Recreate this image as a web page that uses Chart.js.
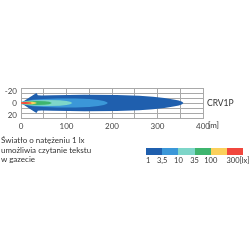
<!DOCTYPE html>
<html>
<head>
<meta charset="utf-8">
<script src="https://cdn.jsdelivr.net/npm/chart.js@4"></script>
<style>
  body { margin: 0; background: #fff; }
  #wrap { position: relative; width: 250px; height: 250px; font-family: Lato, sans-serif; color: #333; }
  #beam { position: absolute; left: 0; top: 0; }
  .txt { position: absolute; font-size: 8px; white-space: nowrap; }
  .lbl { font-size: 7.5px; top: 156px; }
  #desc { left: 1px; top: 136px; line-height: 9.5px; }
  #bar { position: absolute; left: 146px; top: 148px; height: 7px; display: flex; }
  #bar div { width: 16.2px; height: 7px; }
</style>
</head>
<body>
<div id="wrap">
  <canvas id="beam" width="250" height="250"></canvas>
  <div class="txt" style="left:207px; top:98px; font-size:8.5px;">CRV1P</div>
  <div class="txt" style="left:208px; top:120px;">[m]</div>
  <div class="txt" id="desc">Światło o natężeniu 1 lx<br>umożliwia czytanie tekstu<br>w gazecie</div>
  <div id="bar"></div>
  <div id="barLabels"></div>
  <div class="txt lbl" style="left:239.5px;">[lx]</div>
</div>
<script>
// lux levels, outermost first
const levelLabels = ["1", "3,5", "10", "35", "100", "300"];
const levelColors = ["#1f5fae", "#3b97d8", "#7ed6c9", "#3eb56e", "#fbd05b", "#f1473d"];

// half-width of each isolux contour (distance [m], half-width)
const lx1X = [0, 10, 20, 34, 37, 45, 70, 140, 210, 260, 290, 315, 335, 347, 354, 357];
const lx1W = [0, 5, 10, 16.5, 13, 12.6, 13, 13.6, 13.4, 12, 10.5, 8.5, 6, 4, 2, 0];
const lx35X = [0, 10, 25, 50, 80, 120, 150, 170, 182, 188, 191];
const lx35W = [1.5, 3.5, 5.5, 6.8, 7.6, 7.6, 6.6, 5, 3.2, 1.6, 0];
const lx10X = [0, 10, 30, 60, 85, 100, 108, 113];
const lx10W = [1.5, 3, 4.5, 5, 4.6, 3.5, 2, 0];
const lx35bX = [0, 15, 35, 52, 62, 68];
const lx35bW = [1.2, 2.5, 3.3, 3, 2, 0];
const lx100X = [0, 12, 25, 31, 35];
const lx100W = [1.2, 2, 2.2, 1.4, 0];
const lx300X = [0, 10, 17, 22, 24];
const lx300W = [1.2, 1.6, 1.4, 0.8, 0];

const contours = [
  [lx1X, lx1W], [lx35X, lx35W], [lx10X, lx10W],
  [lx35bX, lx35bW], [lx100X, lx100W], [lx300X, lx300W],
];

const yGrid = [-25, -50 / 3, -25 / 3, 0, 25 / 3, 50 / 3, 25];
const yLabels = [-20, 0, 20];

function outline(xs, ws) {
  const top = xs.map((x, i) => ({ x: x, y: -ws[i] }));
  const bottom = xs.map((x, i) => ({ x: x, y: ws[i] })).reverse();
  return top.concat(bottom);
}

const gridColor = "#a9a9a9";

new Chart(document.getElementById("beam"), {
  type: "line",
  data: {
    datasets: contours.map((c, i) => ({
      data: outline(c[0], c[1]),
      backgroundColor: levelColors[i],
      borderWidth: 0,
      pointRadius: 0,
      fill: "shape",
      tension: 0,
      order: contours.length - i,
    })),
  },
  options: {
    responsive: false,
    animation: false,
    layout: { padding: { top: 88, right: 47, bottom: 118, left: 0 } },
    plugins: { legend: { display: false }, tooltip: { enabled: false } },
    scales: {
      x: {
        type: "linear",
        min: 0,
        max: 400,
        afterFit: (s) => { s.height = 14; },
        grid: { color: gridColor, drawTicks: false },
        border: { color: gridColor },
        ticks: {
          stepSize: 50,
          autoSkip: false,
          maxRotation: 0,
          padding: 4,
          color: "#444",
          font: { family: "Lato", size: 8 },
          callback: (v) => (v % 100 === 0 ? String(v) : ""),
        },
      },
      y: {
        type: "linear",
        min: -25,
        max: 25,
        reverse: true,
        afterFit: (s) => { s.width = 21; },
        afterBuildTicks: (s) => {
          s.ticks = yGrid.concat(yLabels.filter((v) => v !== 0))
            .sort((a, b) => a - b)
            .map((v) => ({ value: v }));
        },
        grid: {
          drawTicks: false,
          color: (ctx) => (ctx.tick && Math.abs(ctx.tick.value) === 20 ? "rgba(0,0,0,0)" : gridColor),
        },
        border: { color: gridColor },
        ticks: {
          padding: 4,
          autoSkip: false,
          color: "#444",
          font: { family: "Lato", size: 8 },
          callback: (v) => (yLabels.includes(v) ? String(v) : ""),
        },
      },
    },
  },
});

// colour scale
const bar = document.getElementById("bar");
const barLabels = document.getElementById("barLabels");
levelColors.forEach((c) => {
  const d = document.createElement("div");
  d.style.background = c;
  bar.appendChild(d);
});
levelLabels.forEach((t, i) => {
  const s = document.createElement("div");
  s.className = "txt lbl";
  s.textContent = t;
  const left = 146 + i * 16.2;
  if (i === 0) {
    s.style.left = left + "px";
  } else if (i === levelLabels.length - 1) {
    s.style.left = left - 0.5 + "px";
  } else {
    s.style.left = left + "px";
    s.style.transform = "translateX(-50%)";
  }
  barLabels.appendChild(s);
});
</script>
</body>
</html>
